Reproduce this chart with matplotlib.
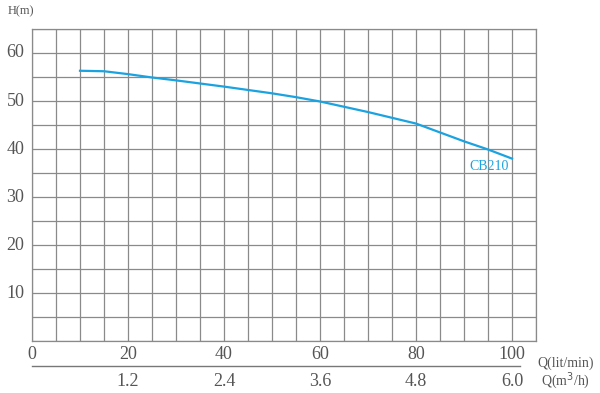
import matplotlib
matplotlib.use("Agg")
import matplotlib.pyplot as plt

# pump curve CB210
flow_lpm = [10, 15, 20, 25, 30, 40, 50, 55, 60, 70, 80, 90, 95, 100]
head_m = [56.3, 56.2, 55.6, 54.9, 54.3, 53.0, 51.6, 50.8, 49.9, 47.7, 45.3,
          41.6, 39.9, 38.0]

x_ticks = [0, 20, 40, 60, 80, 100]
y_ticks = [10, 20, 30, 40, 50, 60]
m3h_pos = [20, 40, 60, 80, 100]
m3h_labels = ["1.2", "2.4", "3.6", "4.8", "6.0"]

GRID = "#8a8a8a"
TXT = "#555555"
BLUE = "#1aa3e0"

plt.rcParams["font.family"] = ["Liberation Serif", "DejaVu Serif"]

fig = plt.figure(figsize=(6.0, 3.93), dpi=100)
ax = fig.add_axes([32 / 600, 1 - 341 / 393, 504 / 600, 312 / 393])

ax.set_xlim(0, 105)
ax.set_ylim(0, 65)
ax.set_xticks(range(0, 106, 5))
ax.set_yticks(range(0, 66, 5))
ax.grid(True, color=GRID, lw=0.9)
ax.tick_params(length=0, labelbottom=False, labelleft=False)
for s in ax.spines.values():
    s.set_color(GRID)
    s.set_linewidth(0.9)

ax.plot(flow_lpm, head_m, color=BLUE, lw=1.6)
ax.text(99.4, 36.3, "CB210", color=BLUE, fontsize=10, ha="right", va="center")

# tick labels by hand (the grid is denser than the labels)
for v in x_ticks:
    ax.text(v, -1.1, str(v), ha="center", va="top", fontsize=13, color=TXT,
            clip_on=False)
for v in y_ticks:
    ax.text(-1.6, v, str(v), ha="right", va="center", fontsize=13, color=TXT,
            clip_on=False)
for v, lab in zip(m3h_pos, m3h_labels):
    ax.text(v, -6.6, lab, ha="center", va="top", fontsize=13, color=TXT,
            clip_on=False)

# second axis line
ax.plot([0, 101.7], [-5.2, -5.2], color="#777777", lw=1.0, clip_on=False)

ax.text(105.2, -4.6, "Q(lit/min)", ha="left", va="center", fontsize=10,
        color=TXT, clip_on=False)
ax.text(106.0, -8.2, "Q(m$^3$/h)", ha="left", va="center", fontsize=10,
        color=TXT, clip_on=False)
fig.text(8 / 600, 1 - 11 / 393, "H(m)", ha="left", va="center", fontsize=9,
         color=TXT)

fig.savefig("out.png", dpi=100)
